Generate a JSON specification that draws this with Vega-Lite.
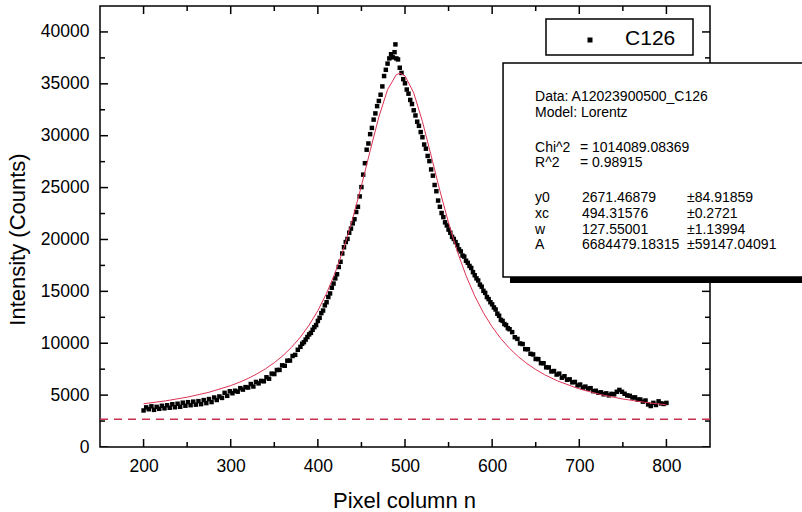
{
  "$schema": "https://vega.github.io/schema/vega-lite/v6.json",
  "width": 610,
  "height": 441,
  "autosize": {"type": "none"},
  "padding": {"left": 100, "top": 6, "right": 92, "bottom": 65},
  "background": "white",
  "config": {
    "view": {"stroke": "black", "strokeWidth": 1.5},
    "axis": {
      "labelFont": "Liberation Sans", "labelFontSize": 17.5, "labelColor": "black",
      "titleFont": "Liberation Sans", "titleFontSize": 22, "titleFontWeight": "normal", "titleColor": "black",
      "grid": false, "domain": false, "ticks": false,
      "labelOverlap": false, "labelFlush": false
    },
    "text": {"font": "Liberation Sans"}
  },
  "datasets": {
    "pts": [
      {"x":200,"y":3520},{"x":203,"y":3820},{"x":206,"y":3640},{"x":209,"y":3920},{"x":212,"y":3580},{"x":215,"y":3870},{"x":218,"y":3680},{"x":221,"y":3970},{"x":224,"y":3730},{"x":227,"y":4020},
      {"x":230,"y":3780},{"x":233,"y":4120},{"x":236,"y":3830},{"x":239,"y":4170},{"x":242,"y":3880},{"x":245,"y":4270},{"x":248,"y":3980},{"x":251,"y":4320},{"x":254,"y":4030},{"x":257,"y":4370},
      {"x":260,"y":4080},{"x":263,"y":4420},{"x":266,"y":4130},{"x":269,"y":4520},{"x":272,"y":4230},{"x":275,"y":4620},{"x":278,"y":4330},{"x":281,"y":4770},{"x":284,"y":4530},{"x":287,"y":4870},
      {"x":290,"y":4730},{"x":293,"y":5220},{"x":296,"y":4930},{"x":299,"y":5370},{"x":302,"y":5180},{"x":305,"y":5420},{"x":308,"y":5330},{"x":311,"y":5670},{"x":314,"y":5530},{"x":317,"y":5770},
      {"x":320,"y":5730},{"x":323,"y":6070},{"x":326,"y":5830},{"x":329,"y":6270},{"x":332,"y":6130},{"x":335,"y":6370},{"x":338,"y":6330},{"x":341,"y":6720},{"x":344,"y":6580},{"x":347,"y":7070},
      {"x":350,"y":7030},{"x":353,"y":7420},{"x":356,"y":7430},{"x":359,"y":7870},{"x":362,"y":7830},{"x":365,"y":8320},{"x":368,"y":8330},{"x":371,"y":8770},{"x":374,"y":8880},{"x":377,"y":9370},
      {"x":380,"y":9650},{"x":382,"y":9950},{"x":384,"y":10100},{"x":386,"y":10350},{"x":388,"y":10600},{"x":390,"y":10850},{"x":392,"y":11000},{"x":394,"y":11300},{"x":396,"y":11550},{"x":398,"y":11750},
      {"x":400,"y":12150},{"x":402,"y":12450},{"x":404,"y":12900},{"x":406,"y":13150},{"x":408,"y":13650},{"x":410,"y":13950},{"x":412,"y":14450},{"x":414,"y":14800},{"x":416,"y":15350},{"x":418,"y":15750},
      {"x":420,"y":16250},{"x":422,"y":16650},{"x":424,"y":17350},{"x":426,"y":17850},{"x":428,"y":18650},{"x":430,"y":19250},{"x":432,"y":19750},{"x":434,"y":20050},{"x":436,"y":20650},{"x":438,"y":21050},
      {"x":440,"y":21550},{"x":442,"y":21950},{"x":444,"y":22650},{"x":446,"y":23150},{"x":448,"y":24150},{"x":450,"y":25050},{"x":452,"y":26250},{"x":454,"y":27350},{"x":456,"y":28650},{"x":458,"y":29250},
      {"x":460,"y":30150},{"x":462,"y":30750},{"x":464,"y":31550},{"x":466,"y":32150},{"x":468,"y":32850},{"x":470,"y":33350},{"x":472,"y":33950},{"x":474,"y":34750},{"x":476,"y":35750},{"x":478,"y":36350},
      {"x":480,"y":36950},{"x":482,"y":37450},{"x":484,"y":37850},{"x":486,"y":37550},{"x":488,"y":38050},{"x":489,"y":38800},{"x":490,"y":37450},{"x":492,"y":37350},{"x":494,"y":36550},{"x":496,"y":36050},
      {"x":498,"y":35450},{"x":500,"y":35050},{"x":502,"y":34450},{"x":504,"y":34050},{"x":506,"y":33450},{"x":508,"y":33050},{"x":510,"y":32450},{"x":512,"y":31950},{"x":514,"y":31350},{"x":516,"y":30950},
      {"x":518,"y":30350},{"x":520,"y":29850},{"x":522,"y":29150},{"x":524,"y":28750},{"x":526,"y":28050},{"x":528,"y":27550},{"x":530,"y":26750},{"x":532,"y":26150},{"x":534,"y":25250},{"x":536,"y":24650},
      {"x":538,"y":23750},{"x":540,"y":23150},{"x":542,"y":22550},{"x":544,"y":22150},{"x":546,"y":21650},{"x":548,"y":21350},{"x":550,"y":20950},{"x":552,"y":20650},{"x":554,"y":20250},{"x":556,"y":20050},
      {"x":558,"y":19750},{"x":560,"y":19450},{"x":562,"y":19050},{"x":564,"y":18850},{"x":566,"y":18450},{"x":568,"y":18350},{"x":570,"y":17950},{"x":572,"y":17750},{"x":574,"y":17450},{"x":576,"y":17250},
      {"x":578,"y":16850},{"x":580,"y":16550},{"x":582,"y":16250},{"x":584,"y":16050},{"x":586,"y":15650},{"x":588,"y":15450},{"x":590,"y":15050},{"x":592,"y":14850},{"x":594,"y":14450},{"x":596,"y":14250},
      {"x":598,"y":13950},{"x":600,"y":13750},{"x":602,"y":13450},{"x":604,"y":13250},{"x":606,"y":12850},{"x":608,"y":12650},{"x":610,"y":12250},{"x":612,"y":12150},{"x":614,"y":11850},{"x":616,"y":11750},
      {"x":618,"y":11450},{"x":620,"y":11350},
      {"x":623,"y":11070},{"x":626,"y":10580},{"x":629,"y":10420},{"x":632,"y":9980},{"x":635,"y":9920},{"x":638,"y":9430},{"x":641,"y":9420},{"x":644,"y":8980},{"x":647,"y":8920},{"x":650,"y":8480},
      {"x":653,"y":8470},{"x":656,"y":8080},{"x":659,"y":8070},{"x":662,"y":7680},{"x":665,"y":7670},{"x":668,"y":7280},{"x":671,"y":7320},{"x":674,"y":6980},{"x":677,"y":7070},{"x":680,"y":6680},
      {"x":683,"y":6820},{"x":686,"y":6480},{"x":689,"y":6520},{"x":692,"y":6230},{"x":695,"y":6270},{"x":698,"y":5930},{"x":701,"y":6020},{"x":704,"y":5730},{"x":707,"y":5820},{"x":710,"y":5630},
      {"x":713,"y":5670},{"x":716,"y":5380},{"x":719,"y":5420},{"x":722,"y":5230},{"x":725,"y":5270},{"x":728,"y":5080},{"x":731,"y":5170},{"x":734,"y":4980},{"x":737,"y":5120},{"x":740,"y":5080},
      {"x":743,"y":5320},{"x":746,"y":5500},{"x":749,"y":5320},{"x":752,"y":5130},{"x":755,"y":4970},{"x":758,"y":4930},{"x":761,"y":4770},{"x":764,"y":4780},{"x":767,"y":4570},{"x":770,"y":4580},
      {"x":773,"y":4370},{"x":776,"y":4480},{"x":779,"y":4100},{"x":782,"y":3950},{"x":785,"y":4250},{"x":788,"y":4050},{"x":791,"y":4400},{"x":794,"y":4200},{"x":797,"y":4150},{"x":800,"y":4250}
    ],
    "fit": [
      {"x":200,"f":4168},{"x":225,"f":4443},{"x":250,"f":4800},{"x":275,"f":5273},{"x":300,"f":5916},{"x":310,"f":6239},{"x":320,"f":6611},{"x":330,"f":7040},{"x":340,"f":7539},{"x":350,"f":8123},
      {"x":360,"f":8810},{"x":370,"f":9624},{"x":380,"f":10592},{"x":390,"f":11750},{"x":400,"f":13142},{"x":410,"f":14815},{"x":420,"f":16824},{"x":430,"f":19216},{"x":440,"f":22013},{"x":450,"f":25176},
      {"x":460,"f":28550},{"x":470,"f":31804},{"x":480,"f":34437},{"x":490,"f":35883},{"x":494.3,"f":36034},{"x":500,"f":35771},{"x":510,"f":34128},{"x":520,"f":31373},{"x":530,"f":28073},{"x":540,"f":24715},
      {"x":550,"f":21597},{"x":560,"f":18857},{"x":570,"f":16520},{"x":580,"f":14562},{"x":590,"f":12931},{"x":600,"f":11575},{"x":610,"f":10446},{"x":620,"f":9501},{"x":630,"f":8707},{"x":640,"f":8036},
      {"x":650,"f":7464},{"x":660,"f":6976},{"x":675,"f":6367},{"x":700,"f":5597},{"x":725,"f":5040},{"x":750,"f":4625},{"x":775,"f":4309},{"x":800,"f":4062}
    ],
    "xmaj": [{"v":200},{"v":300},{"v":400},{"v":500},{"v":600},{"v":700},{"v":800}],
    "xmin": [{"v":250},{"v":350},{"v":450},{"v":550},{"v":650},{"v":750}],
    "ymaj": [{"v":0},{"v":5000},{"v":10000},{"v":15000},{"v":20000},{"v":25000},{"v":30000},{"v":35000},{"v":40000}],
    "ymin": [{"v":2500},{"v":7500},{"v":12500},{"v":17500},{"v":22500},{"v":27500},{"v":32500},{"v":37500}],
    "series": [{"s":"C126"}],
    "one": [{}]
  },
  "resolve": {"axis": {"x": "independent", "y": "independent"}},
  "layer": [
    {
      "data": {"name": "xmaj"},
      "mark": {"type": "tick", "orient": "vertical", "size": 16, "thickness": 1.5, "color": "black", "opacity": 1, "clip": true},
      "encoding": {
        "x": {"field": "v", "type": "quantitative", "scale": {"domain": [150, 850], "nice": false, "zero": false}, "axis": null},
        "y": {"datum": 0, "type": "quantitative", "scale": {"domain": [0, 42500], "nice": false, "zero": false}, "axis": null}
      }
    },
    {
      "data": {"name": "xmaj"},
      "mark": {"type": "tick", "orient": "vertical", "size": 16, "thickness": 1.5, "color": "black", "opacity": 1, "clip": true},
      "encoding": {
        "x": {"field": "v", "type": "quantitative", "scale": {"domain": [150, 850], "nice": false, "zero": false}, "axis": null},
        "y": {"datum": 42500, "type": "quantitative", "scale": {"domain": [0, 42500], "nice": false, "zero": false}, "axis": null}
      }
    },
    {
      "data": {"name": "xmin"},
      "mark": {"type": "tick", "orient": "vertical", "size": 10, "thickness": 1.5, "color": "black", "opacity": 1, "clip": true},
      "encoding": {
        "x": {"field": "v", "type": "quantitative", "scale": {"domain": [150, 850], "nice": false, "zero": false}, "axis": null},
        "y": {"datum": 0, "type": "quantitative", "scale": {"domain": [0, 42500], "nice": false, "zero": false}, "axis": null}
      }
    },
    {
      "data": {"name": "xmin"},
      "mark": {"type": "tick", "orient": "vertical", "size": 10, "thickness": 1.5, "color": "black", "opacity": 1, "clip": true},
      "encoding": {
        "x": {"field": "v", "type": "quantitative", "scale": {"domain": [150, 850], "nice": false, "zero": false}, "axis": null},
        "y": {"datum": 42500, "type": "quantitative", "scale": {"domain": [0, 42500], "nice": false, "zero": false}, "axis": null}
      }
    },
    {
      "data": {"name": "ymaj"},
      "mark": {"type": "tick", "orient": "horizontal", "size": 16, "thickness": 1.5, "color": "black", "opacity": 1, "clip": true},
      "encoding": {
        "y": {"field": "v", "type": "quantitative", "scale": {"domain": [0, 42500], "nice": false, "zero": false}, "axis": null},
        "x": {"datum": 150, "type": "quantitative", "scale": {"domain": [150, 850], "nice": false, "zero": false}, "axis": null}
      }
    },
    {
      "data": {"name": "ymaj"},
      "mark": {"type": "tick", "orient": "horizontal", "size": 16, "thickness": 1.5, "color": "black", "opacity": 1, "clip": true},
      "encoding": {
        "y": {"field": "v", "type": "quantitative", "scale": {"domain": [0, 42500], "nice": false, "zero": false}, "axis": null},
        "x": {"datum": 850, "type": "quantitative", "scale": {"domain": [150, 850], "nice": false, "zero": false}, "axis": null}
      }
    },
    {
      "data": {"name": "ymin"},
      "mark": {"type": "tick", "orient": "horizontal", "size": 10, "thickness": 1.5, "color": "black", "opacity": 1, "clip": true},
      "encoding": {
        "y": {"field": "v", "type": "quantitative", "scale": {"domain": [0, 42500], "nice": false, "zero": false}, "axis": null},
        "x": {"datum": 150, "type": "quantitative", "scale": {"domain": [150, 850], "nice": false, "zero": false}, "axis": null}
      }
    },
    {
      "data": {"name": "ymin"},
      "mark": {"type": "tick", "orient": "horizontal", "size": 10, "thickness": 1.5, "color": "black", "opacity": 1, "clip": true},
      "encoding": {
        "y": {"field": "v", "type": "quantitative", "scale": {"domain": [0, 42500], "nice": false, "zero": false}, "axis": null},
        "x": {"datum": 850, "type": "quantitative", "scale": {"domain": [150, 850], "nice": false, "zero": false}, "axis": null}
      }
    },
    {
      "data": {"name": "pts"},
      "mark": {"type": "square", "size": 20, "opacity": 1, "color": "black"},
      "encoding": {
        "x": {"field": "x", "type": "quantitative", "scale": {"domain": [150, 850], "nice": false, "zero": false}, "axis": null},
        "y": {"field": "y", "type": "quantitative", "scale": {"domain": [0, 42500], "nice": false, "zero": false}, "axis": null}
      }
    },
    {
      "data": {"name": "fit"},
      "mark": {"type": "line", "color": "#dd3355", "strokeWidth": 1},
      "encoding": {
        "x": {"field": "x", "type": "quantitative", "scale": {"domain": [150, 850], "nice": false, "zero": false}, "axis": null},
        "y": {"field": "f", "type": "quantitative", "scale": {"domain": [0, 42500], "nice": false, "zero": false}, "axis": null}
      }
    },
    {
      "data": {"name": "one"},
      "mark": {"type": "rule", "color": "#c4304e", "strokeWidth": 1.5, "strokeDash": [8, 6]},
      "encoding": {
        "y": {"datum": 2671.47, "type": "quantitative", "scale": {"domain": [0, 42500], "nice": false, "zero": false}, "axis": null}
      }
    },
    {
      "data": {"name": "one"},
      "mark": {"type": "rect", "fill": "white", "stroke": "black", "strokeWidth": 1.5},
      "encoding": {
        "x": {"datum": 661.8, "type": "quantitative", "scale": {"domain": [150, 850], "nice": false, "zero": false}, "axis": null},
        "x2": {"datum": 830.5},
        "y": {"datum": 41247, "type": "quantitative", "scale": {"domain": [0, 42500], "nice": false, "zero": false}, "axis": null},
        "y2": {"datum": 37778}
      }
    },
    {
      "data": {"name": "series"},
      "mark": {"type": "square", "size": 25, "opacity": 1, "color": "black"},
      "encoding": {
        "x": {"datum": 712.3, "type": "quantitative", "scale": {"domain": [150, 850], "nice": false, "zero": false}, "axis": null},
        "y": {"datum": 39223, "type": "quantitative", "scale": {"domain": [0, 42500], "nice": false, "zero": false}, "axis": null}
      }
    },
    {
      "data": {"name": "series"},
      "mark": {"type": "text", "align": "left", "baseline": "alphabetic", "fontSize": 21, "color": "black"},
      "encoding": {
        "text": {"field": "s"},
        "x": {"datum": 752.5, "type": "quantitative", "scale": {"domain": [150, 850], "nice": false, "zero": false}, "axis": null},
        "y": {"datum": 38741, "type": "quantitative", "scale": {"domain": [0, 42500], "nice": false, "zero": false}, "axis": null}
      }
    },
    {
      "data": {"name": "one"},
      "mark": {"type": "rect", "color": "black"},
      "encoding": {
        "x": {"datum": 620.5, "type": "quantitative", "scale": {"domain": [150, 850], "nice": false, "zero": false},
          "axis": {"orient": "bottom", "values": [200,300,400,500,600,700,800], "labels": true, "labelPadding": 24, "labelBaseline": "alphabetic",
            "title": "Pixel column n", "titleX": 304, "titleY": 60, "titleBaseline": "alphabetic", "titleAlign": "center", "titleAnchor": null}},
        "x2": {"datum": 965},
        "y": {"datum": 36429, "type": "quantitative", "scale": {"domain": [0, 42500], "nice": false, "zero": false},
          "axis": {"orient": "left", "values": [0,5000,10000,15000,20000,25000,30000,35000,40000], "format": "d", "labels": true, "labelPadding": 11,
            "title": "Intensity (Counts)", "titleX": -76, "titleY": 233, "titleAngle": -90, "titleBaseline": "alphabetic", "titleAlign": "center", "titleAnchor": null}},
        "y2": {"datum": 15805}
      }
    },
    {
      "data": {"name": "one"},
      "mark": {"type": "rect", "fill": "white", "stroke": "black", "strokeWidth": 1.5},
      "encoding": {
        "x": {"datum": 612.5, "type": "quantitative", "scale": {"domain": [150, 850], "nice": false, "zero": false}, "axis": null},
        "x2": {"datum": 965},
        "y": {"datum": 37007, "type": "quantitative", "scale": {"domain": [0, 42500], "nice": false, "zero": false}, "axis": null},
        "y2": {"datum": 16383}
      }
    },
    {
      "data": {"name": "one"},
      "mark": {"type": "text", "align": "left", "baseline": "alphabetic", "fontSize": 14, "lineHeight": 15.8, "color": "black",
        "text": ["Data: A12023900500_C126", "Model: Lorentz"]},
      "encoding": {
        "x": {"datum": 649.2, "type": "quantitative", "scale": {"domain": [150, 850], "nice": false, "zero": false}, "axis": null},
        "y": {"datum": 33345, "type": "quantitative", "scale": {"domain": [0, 42500], "nice": false, "zero": false}, "axis": null}
      }
    },
    {
      "data": {"name": "one"},
      "mark": {"type": "text", "align": "left", "baseline": "alphabetic", "fontSize": 14, "lineHeight": 15.8, "color": "black",
        "text": ["Chi^2", "R^2"]},
      "encoding": {
        "x": {"datum": 649.2, "type": "quantitative", "scale": {"domain": [150, 850], "nice": false, "zero": false}, "axis": null},
        "y": {"datum": 28459, "type": "quantitative", "scale": {"domain": [0, 42500], "nice": false, "zero": false}, "axis": null}
      }
    },
    {
      "data": {"name": "one"},
      "mark": {"type": "text", "align": "left", "baseline": "alphabetic", "fontSize": 14, "lineHeight": 15.8, "color": "black",
        "text": ["= 1014089.08369", "= 0.98915"]},
      "encoding": {
        "x": {"datum": 700.8, "type": "quantitative", "scale": {"domain": [150, 850], "nice": false, "zero": false}, "axis": null},
        "y": {"datum": 28459, "type": "quantitative", "scale": {"domain": [0, 42500], "nice": false, "zero": false}, "axis": null}
      }
    },
    {
      "data": {"name": "one"},
      "mark": {"type": "text", "align": "left", "baseline": "alphabetic", "fontSize": 14, "lineHeight": 15.8, "color": "black",
        "text": ["y0", "xc", "w", "A"]},
      "encoding": {
        "x": {"datum": 649.2, "type": "quantitative", "scale": {"domain": [150, 850], "nice": false, "zero": false}, "axis": null},
        "y": {"datum": 23611, "type": "quantitative", "scale": {"domain": [0, 42500], "nice": false, "zero": false}, "axis": null}
      }
    },
    {
      "data": {"name": "one"},
      "mark": {"type": "text", "align": "left", "baseline": "alphabetic", "fontSize": 14, "lineHeight": 15.8, "color": "black",
        "text": ["2671.46879", "494.31576", "127.55001", "6684479.18315"]},
      "encoding": {
        "x": {"datum": 703.1, "type": "quantitative", "scale": {"domain": [150, 850], "nice": false, "zero": false}, "axis": null},
        "y": {"datum": 23611, "type": "quantitative", "scale": {"domain": [0, 42500], "nice": false, "zero": false}, "axis": null}
      }
    },
    {
      "data": {"name": "one"},
      "mark": {"type": "text", "align": "left", "baseline": "alphabetic", "fontSize": 14, "lineHeight": 15.8, "color": "black",
        "text": ["±84.91859", "±0.2721", "±1.13994", "±59147.04091"]},
      "encoding": {
        "x": {"datum": 823.6, "type": "quantitative", "scale": {"domain": [150, 850], "nice": false, "zero": false}, "axis": null},
        "y": {"datum": 23611, "type": "quantitative", "scale": {"domain": [0, 42500], "nice": false, "zero": false}, "axis": null}
      }
    }
  ]
}
